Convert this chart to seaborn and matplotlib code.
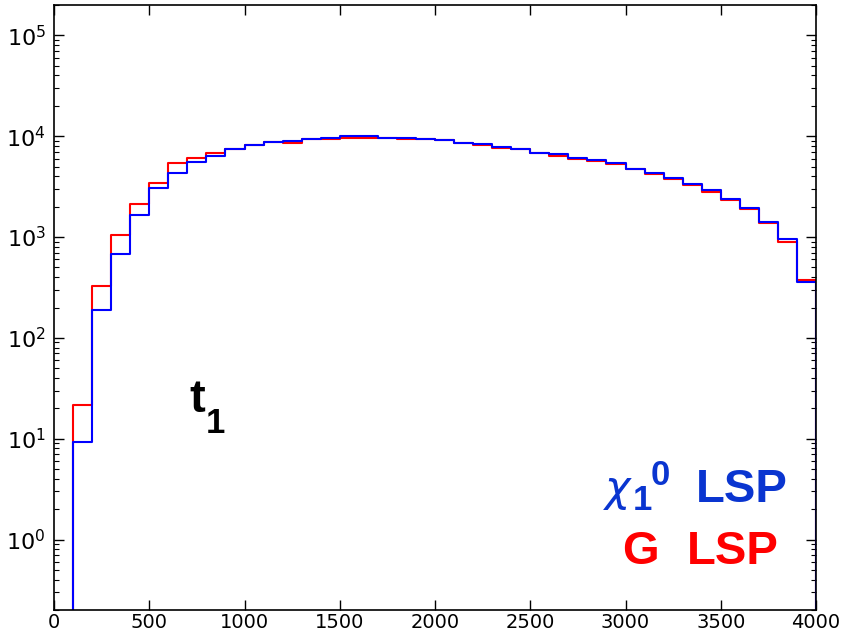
import numpy as np
import pandas as pd
import matplotlib
matplotlib.use("Agg")
import matplotlib.pyplot as plt
import seaborn as sns

# Stop mass distribution, events per 100 GeV bin (lower bin edges)
bin_low = [0, 100, 200, 300, 400, 500, 600, 700, 800, 900,
           1000, 1100, 1200, 1300, 1400, 1500, 1600, 1700, 1800, 1900,
           2000, 2100, 2200, 2300, 2400, 2500, 2600, 2700, 2800, 2900,
           3000, 3100, 3200, 3300, 3400, 3500, 3600, 3700, 3800, 3900, 4000]

gravitino_lsp = [0, 21.5, 326, 1045, 2105, 3460, 5460, 6120, 6860, 7520,
                 8100, 8700, 8615, 9445, 9300, 9665, 9665, 9665, 9300, 9300,
                 9160, 8500, 8110, 7620, 7400, 6760, 6350, 6000, 5650, 5330,
                 4690, 4200, 3730, 3275, 2790, 2307, 1878, 1387, 898, 371, 0]

neutralino_lsp = [0, 9.2, 191, 683, 1650, 3085, 4345, 5535, 6350, 7400,
                  8165, 8745, 8950, 9445, 9665, 10030, 10030, 9665, 9600, 9450,
                  9160, 8615, 8295, 7870, 7520, 6860, 6600, 6120, 5795, 5460,
                  4720, 4276, 3815, 3380, 2900, 2400, 1922, 1419, 947, 360, 0]

bin_width = 100
edges = list(bin_low) + [bin_low[-1] + bin_width]
centers = [b + bin_width / 2 for b in bin_low]

df = pd.DataFrame({"mass": centers * 2,
                   "events": gravitino_lsp + neutralino_lsp,
                   "sample": ["G"] * len(centers) + ["chi"] * len(centers)})

sns.set_style("ticks")
plt.rcParams["font.family"] = ["DejaVu Sans"]

fig = plt.figure(figsize=(8.41, 6.35), dpi=100)
ax = fig.add_axes([54 / 841, 1 - 610 / 635, (816 - 54) / 841, (610 - 5) / 635])

for name, color in [("G", "#ff0000"), ("chi", "#0000ff")]:
    sub = df[df["sample"] == name]
    sns.histplot(data=sub, x="mass", weights="events", bins=edges,
                 element="step", fill=False, color=color, linewidth=1.5,
                 ax=ax)

ax.set_yscale("log", nonpositive="clip")
ax.set_xlim(0, 4000)
ax.set_ylim(0.2, 2e5)
ax.set_xticks(np.arange(0, 4001, 500))
ax.set_xlabel("")
ax.set_ylabel("")

ax.tick_params(which="both", direction="in", top=True, right=True,
               colors="black")
ax.tick_params(axis="x", labelsize=14)
ax.tick_params(axis="y", labelsize=16)
ax.tick_params(which="major", length=7, width=1)
ax.tick_params(axis="x", which="major", pad=2)
ax.tick_params(axis="y", which="major", pad=6)
ax.tick_params(which="minor", length=3.5, width=0.8)
for s in ax.spines.values():
    s.set_color("black")
    s.set_linewidth(1.2)
    s.set_visible(True)


def put(x, y, s, size, color, weight="bold", family=None):
    fig.text(x / 841, 1 - y / 635, s, fontsize=size, color=color,
             fontweight=weight,
             family=family or ["Liberation Sans", "DejaVu Sans"],
             ha="left", va="baseline")


# particle label
put(189, 412, "t", 34, "black")
put(206, 433, "1", 25, "black")

# LSP scenario labels
blue_txt = "#0a35d0"
put(603, 501, r"$\chi$", 31, blue_txt, weight="normal")
put(633, 510, "1", 25, blue_txt)
put(651, 485, "0", 25, blue_txt)
put(696, 502, "LSP", 34, blue_txt)

put(622, 564, "G", 34, "#ff0000")
put(687, 564, "LSP", 34, "#ff0000")

fig.savefig("out.png", dpi=100)
